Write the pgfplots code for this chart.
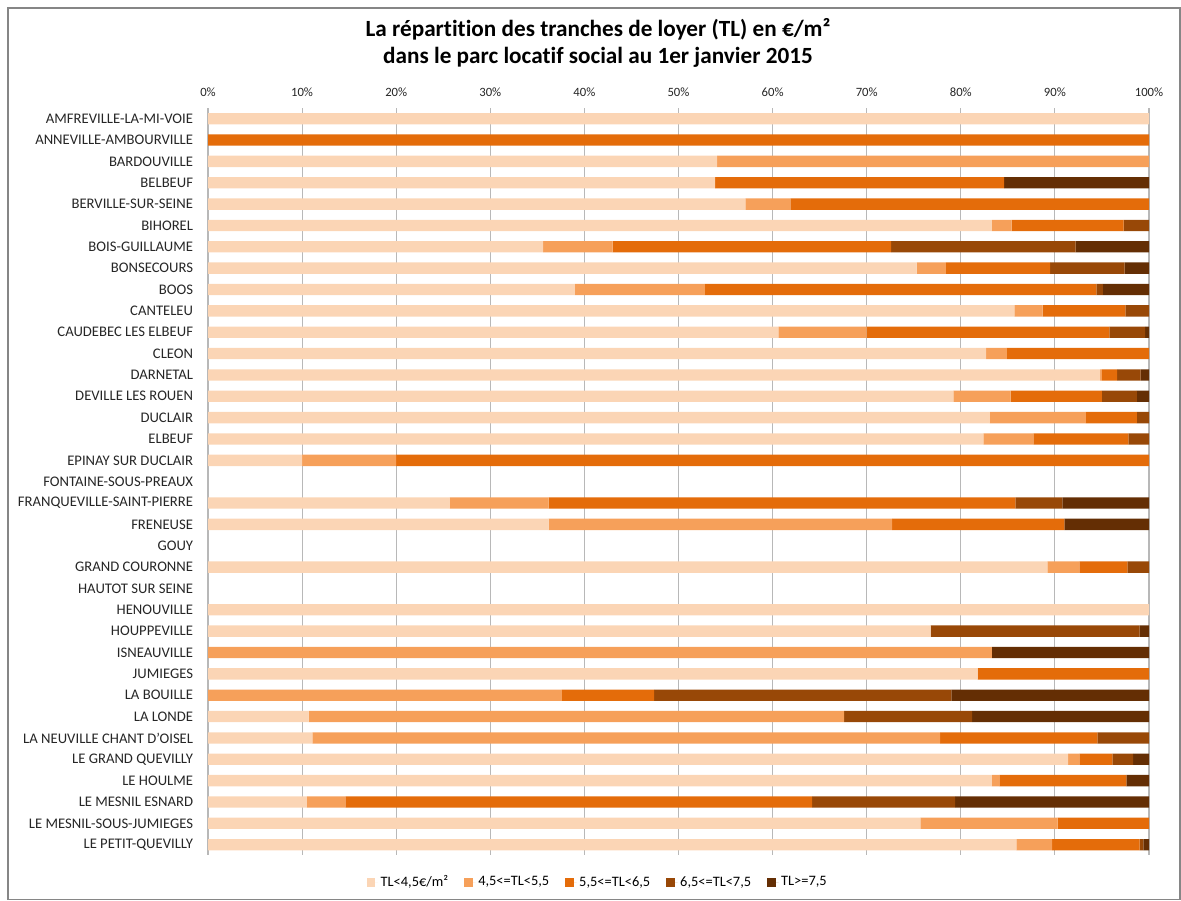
\documentclass[border=0pt]{standalone}
\usepackage{pgfplots}
\pgfplotsset{compat=1.18}
\usepackage{pgfplotstable}
\usepackage{fontspec}
\setmainfont{Carlito}[Ligatures={NoCommon}]
\definecolor{cA}{HTML}{FBD5B5}
\definecolor{cB}{HTML}{F6A05A}
\definecolor{cC}{HTML}{E46C0A}
\definecolor{cD}{HTML}{984807}
\definecolor{cE}{HTML}{642E04}
\definecolor{bord}{RGB}{134,134,134}
\pgfplotstableread{
y a b c d e
0 100 0 0 0 0
1 0 0 100 0 0
2 54.1 45.9 0 0 0
3 53.9 0 30.7 0 15.4
4 57.1 4.8 38.1 0 0
5 83.3 2.1 11.9 2.7 0
6 35.6 7.4 29.6 19.6 7.8
7 75.3 3.1 11.1 7.9 2.6
8 39.0 13.8 41.6 0.7 4.9
9 85.7 3.0 8.8 2.5 0
10 60.6 9.4 25.8 3.8 0.4
11 82.7 2.2 15.1 0 0
12 94.8 0.2 1.6 2.5 0.9
13 79.2 6.1 9.7 3.7 1.3
14 83.1 10.2 5.4 1.3 0
15 82.4 5.3 10.1 2.2 0
16 10 10 80 0 0
17 0 0 0 0 0
18 25.7 10.5 49.6 5.0 9.2
19 36.2 36.5 18.3 0 9.0
20 0 0 0 0 0
21 89.2 3.4 5.1 2.3 0
22 0 0 0 0 0
23 100 0 0 0 0
24 76.8 0 0 22.2 1.0
25 0 83.3 0 0 16.7
26 81.8 0 18.2 0 0
27 0 37.6 9.8 31.6 21.0
28 10.7 56.9 0 13.6 18.8
29 11.1 66.7 16.7 5.5 0
30 91.4 1.2 3.5 2.2 1.7
31 83.3 0.8 13.5 0 2.4
32 10.5 4.1 49.6 15.2 20.6
33 75.7 14.6 9.7 0 0
34 85.9 3.8 9.3 0.4 0.6
}\data
\begin{document}
\begin{tikzpicture}
\useasboundingbox (0pt,0pt) rectangle (885.75pt,-675pt);
\draw[bord, line width=1pt] (6pt,-6pt) rectangle (885pt,-674.5pt);
\node[align=center, font=\bfseries\fontsize{17.4}{20.25}\selectfont] at (448.5pt,-32.5pt)
  {La répartition des tranches de loyer (TL) en €/m²\\dans le parc locatif social au 1er janvier 2015};
\begin{axis}[
  at={(156pt,-641.5pt)}, anchor=south west,
  scale only axis, width=705.75pt, height=560.5pt,
  xbar stacked, bar width=8.5pt,
  xmin=0, xmax=100,
  ymin=-0.5, ymax=34.5, y dir=reverse,
  xtick={0,10,...,100},
  xticklabel pos=upper,
  xticklabel={\pgfmathprintnumber{\tick}\%},
  xticklabel style={font=\fontsize{9.5}{11}\selectfont, inner sep=0pt, yshift=8.5pt, color=black!85},
  /pgf/number format/assume math mode=true,
  ytick={0,...,34},
  yticklabels={AMFREVILLE-LA-MI-VOIE,ANNEVILLE-AMBOURVILLE,BARDOUVILLE,BELBEUF,BERVILLE-SUR-SEINE,BIHOREL,BOIS-GUILLAUME,BONSECOURS,BOOS,CANTELEU,CAUDEBEC LES ELBEUF,CLEON,DARNETAL,DEVILLE LES ROUEN,DUCLAIR,ELBEUF,EPINAY SUR DUCLAIR,FONTAINE-SOUS-PREAUX,FRANQUEVILLE-SAINT-PIERRE,FRENEUSE,GOUY,GRAND COURONNE,HAUTOT SUR SEINE,HENOUVILLE,HOUPPEVILLE,ISNEAUVILLE,JUMIEGES,LA BOUILLE,LA LONDE,LA NEUVILLE CHANT D'OISEL,LE GRAND QUEVILLY,LE HOULME,LE MESNIL ESNARD,LE MESNIL-SOUS-JUMIEGES,LE PETIT-QUEVILLY},
  yticklabel style={font=\fontsize{11}{12}\selectfont, inner sep=0pt, xshift=-11pt, color=black!85},
  major tick length=0pt,
  axis line style={draw=none},
  xmajorgrids, major grid style={color=black!28, line width=0.8pt},
  legend style={at={(0.4145,-0.036)}, anchor=center, draw=none, fill=none,
    font=\fontsize{10.8}{12}\selectfont, legend columns=5,
    /tikz/every even column/.append style={column sep=10pt}},
  legend image code/.code={\fill[#1] (0pt,-3.2pt) rectangle (6.4pt,3.2pt); \path (0pt,0pt) -- (8.5pt,0pt);},
]
\addplot[fill=cA, draw=none] table[x=a, y=y] {\data};
\addplot[fill=cB, draw=none] table[x=b, y=y] {\data};
\addplot[fill=cC, draw=none] table[x=c, y=y] {\data};
\addplot[fill=cD, draw=none] table[x=d, y=y] {\data};
\addplot[fill=cE, draw=none] table[x=e, y=y] {\data};
\legend{{TL<4,5€/m²}, {4,5<=TL<5,5}, {5,5<=TL<6,5}, {6,5<=TL<7,5}, {TL>=7,5}}
\end{axis}
\end{tikzpicture}
\end{document}
